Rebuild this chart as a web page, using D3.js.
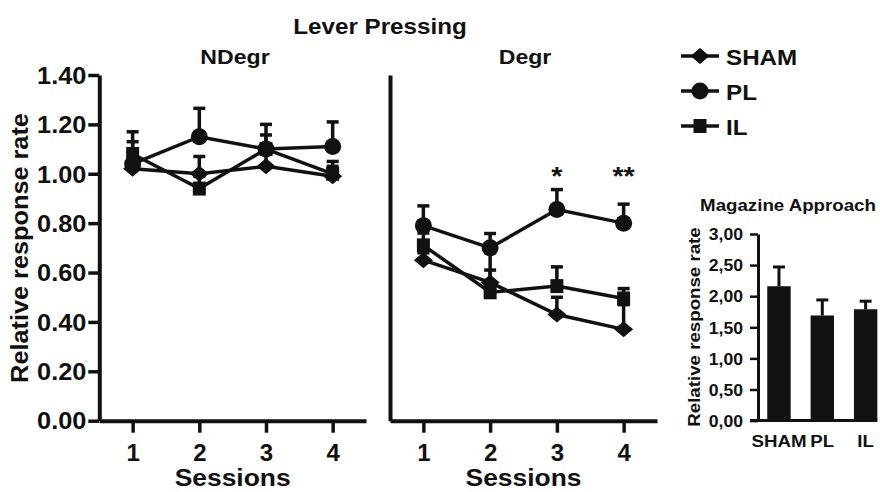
<!DOCTYPE html>
<html>
<head>
<meta charset="utf-8">
<script src="https://cdn.jsdelivr.net/npm/d3@7"></script>
<style>
  html, body { margin: 0; padding: 0; background: #fff; }
  svg { display: block; }
  text { font-family: "Liberation Sans", Arial, Helvetica, sans-serif; font-weight: bold; fill: #111; }
</style>
</head>
<body>
<svg id="chart" width="880" height="492"></svg>
<script>
// ---------- data ----------
const sessions = [1, 2, 3, 4];
const groups = ["SHAM", "PL", "IL"];
const yTicks = [0, 0.2, 0.4, 0.6, 0.8, 1.0, 1.2, 1.4];

const ndegrSHAM = [1.02, 1.00, 1.03, 0.99];
const ndegrSHAMerr = [0.04, 0.07, 0.05, 0.06];
const ndegrPL = [1.04, 1.15, 1.10, 1.11];
const ndegrPLerr = [0.13, 0.115, 0.10, 0.10];
const ndegrIL = [1.08, 0.94, 1.10, 1.00];
const ndegrILerr = [0.05, 0.05, 0.057, 0.03];

const degrSHAM = [0.65, 0.56, 0.43, 0.37];
const degrSHAMerr = [0.03, 0.05, 0.07, 0.10];
const degrPL = [0.79, 0.70, 0.855, 0.80];
const degrPLerr = [0.08, 0.058, 0.081, 0.077];
const degrIL = [0.71, 0.52, 0.545, 0.495];
const degrILerr = [0.05, 0.16, 0.078, 0.04];
const degrSig = ["", "", "*", "**"];

const magTicks = [0, 0.5, 1.0, 1.5, 2.0, 2.5, 3.0];
const magMeans = [2.16, 1.69, 1.79];
const magErr = [0.31, 0.25, 0.13];

// ---------- helpers ----------
const svg = d3.select("#chart");
const INK = "#111";
const SX = 1.1; // horizontal glyph stretch of the original lettering

function label(parent, x, y, str, size, anchor, rot) {
  return parent.append("text")
    .attr("transform", `translate(${x},${y}) rotate(${rot || 0}) scale(${SX},1)`)
    .attr("text-anchor", anchor || "middle")
    .style("font-size", size + "px")
    .text(str);
}

const markerPath = {
  SHAM: "M0,-8L9.5,0L0,8L-9.5,0Z",
  PL: d3.symbol().type(d3.symbolCircle).size(Math.PI * 8.5 * 8.5)(),
  IL: "M-6.5,-7H6.5V7H-6.5Z"
};

// ---------- scales ----------
const y = d3.scaleLinear().domain([0, 1.4]).range([420.7, 75]);
const xL = d3.scaleLinear().domain([0.5, 4.5]).range([99.3, 366]);
const xR = d3.scaleLinear().domain([0.5, 4.5]).range([390, 657]);

function styleAxis(g, w) {
  g.select(".domain").attr("stroke", INK).attr("stroke-width", w);
  g.selectAll(".tick line").attr("stroke", INK).attr("stroke-width", w - 0.5);
}

// left y axis
const gyL = svg.append("g").attr("transform", `translate(${xL.range()[0]},0)`)
  .call(d3.axisLeft(y).tickValues(yTicks).tickFormat(d3.format(".2f")).tickSize(11).tickSizeOuter(0).tickPadding(3));
styleAxis(gyL, 4);
gyL.selectAll(".tick text").attr("fill", INK).style("font-size", "23px")
  .attr("transform", `scale(${SX},1)`).attr("x", -13 / SX).attr("dy", "0.36em");

// left x axis
const gxL = svg.append("g").attr("transform", `translate(0,${y(0)})`)
  .call(d3.axisBottom(xL).tickValues(sessions).tickFormat(d3.format("d")).tickSize(12).tickSizeOuter(0).tickPadding(11));
styleAxis(gxL, 4);
gxL.selectAll(".tick text").attr("fill", INK).style("font-size", "24px");

// right y axis (no ticks)
const gyR = svg.append("g").attr("transform", `translate(${xR.range()[0]},0)`)
  .call(d3.axisLeft(y).tickValues([]).tickSizeOuter(0));
styleAxis(gyR, 4);

// right x axis
const gxR = svg.append("g").attr("transform", `translate(0,${y(0)})`)
  .call(d3.axisBottom(xR).tickValues(sessions).tickFormat(d3.format("d")).tickSize(12).tickSizeOuter(0).tickPadding(11));
styleAxis(gxR, 4);
gxR.selectAll(".tick text").attr("fill", INK).style("font-size", "24px");

// ---------- series ----------
function drawPanel(x, seriesList) {
  const g = svg.append("g");
  const line = d3.line().x((d, i) => x(sessions[i])).y(d => y(d));
  seriesList.forEach(s => {
    g.append("path").datum(s.values).attr("d", line)
      .attr("fill", "none").attr("stroke", INK).attr("stroke-width", 3.5);
  });
  seriesList.forEach(s => {
    s.values.forEach((v, i) => {
      const cx = x(sessions[i]), y0 = y(v), y1 = y(v + s.err[i]);
      g.append("line").attr("x1", cx).attr("x2", cx).attr("y1", y0).attr("y2", y1)
        .attr("stroke", INK).attr("stroke-width", 3.5);
      g.append("line").attr("x1", cx - 6).attr("x2", cx + 6).attr("y1", y1).attr("y2", y1)
        .attr("stroke", INK).attr("stroke-width", 3.5);
    });
  });
  seriesList.forEach(s => {
    s.values.forEach((v, i) => {
      g.append("path").attr("d", markerPath[s.name])
        .attr("transform", `translate(${x(sessions[i])},${y(v)})`).attr("fill", INK);
    });
  });
}

drawPanel(xL, [
  { name: "SHAM", values: ndegrSHAM, err: ndegrSHAMerr },
  { name: "IL", values: ndegrIL, err: ndegrILerr },
  { name: "PL", values: ndegrPL, err: ndegrPLerr }
]);
drawPanel(xR, [
  { name: "SHAM", values: degrSHAM, err: degrSHAMerr },
  { name: "IL", values: degrIL, err: degrILerr },
  { name: "PL", values: degrPL, err: degrPLerr }
]);

// significance stars
degrSig.forEach((s, i) => {
  if (s) label(svg, xR(sessions[i]), y(1.0) + 11, s, 26, "middle");
});

// ---------- titles ----------
label(svg, 380, 34, "Lever Pressing", 22, "middle");
label(svg, 235, 64, "NDegr", 21, "middle");
label(svg, 525, 64, "Degr", 21, "middle");
label(svg, 28, 248, "Relative response rate", 23, "middle", -90);
label(svg, (xL.range()[0] + xL.range()[1]) / 2, 486, "Sessions", 24, "middle");
label(svg, (xR.range()[0] + xR.range()[1]) / 2, 486, "Sessions", 24, "middle");

// ---------- legend ----------
const legendY = [56, 91, 126];
groups.forEach((gname, i) => {
  const ly = legendY[i];
  svg.append("line").attr("x1", 681).attr("x2", 719).attr("y1", ly).attr("y2", ly)
    .attr("stroke", INK).attr("stroke-width", 3.5);
  svg.append("path").attr("d", markerPath[gname])
    .attr("transform", `translate(700,${ly})`).attr("fill", INK);
  label(svg, 726, ly + 8.5, gname, 22, "start");
});

// ---------- magazine approach ----------
const yM = d3.scaleLinear().domain([0, 3]).range([420.6, 234]);
const xM = d3.scaleBand().domain(groups).range([757.3, 887.3]).paddingInner(0.46).paddingOuter(0.23);
const axX0 = 758;

const gyM = svg.append("g").attr("transform", `translate(${axX0},0)`)
  .call(d3.axisLeft(yM).tickValues(magTicks)
    .tickFormat(d => d3.format(".2f")(d).replace(".", ","))
    .tickSize(8).tickSizeOuter(0).tickPadding(6));
styleAxis(gyM, 3);
gyM.selectAll(".tick text").attr("fill", INK).style("font-size", "16px")
  .attr("transform", `scale(${SX},1)`).attr("x", -15 / SX).attr("dy", "0.36em");

groups.forEach((gname, i) => {
  const bx = xM(gname), bw = xM.bandwidth(), cx = bx + bw / 2;
  const top = yM(magMeans[i]), etop = yM(magMeans[i] + magErr[i]);
  svg.append("line").attr("x1", cx).attr("x2", cx).attr("y1", top).attr("y2", etop)
    .attr("stroke", INK).attr("stroke-width", 3);
  svg.append("line").attr("x1", cx - 6).attr("x2", cx + 6).attr("y1", etop).attr("y2", etop)
    .attr("stroke", INK).attr("stroke-width", 3);
  svg.append("rect").attr("x", bx).attr("y", top).attr("width", bw).attr("height", yM(0) - top)
    .attr("fill", INK);
  label(svg, cx, 446.5, gname, 17, "middle");
});
// x baseline of the bar panel
svg.append("line").attr("x1", 750).attr("x2", xM("IL") + xM.bandwidth())
  .attr("y1", yM(0)).attr("y2", yM(0)).attr("stroke", INK).attr("stroke-width", 3);

label(svg, 788, 211, "Magazine Approach", 17, "middle");
label(svg, 700, 327, "Relative response rate", 17, "middle", -90);
</script>
</body>
</html>
